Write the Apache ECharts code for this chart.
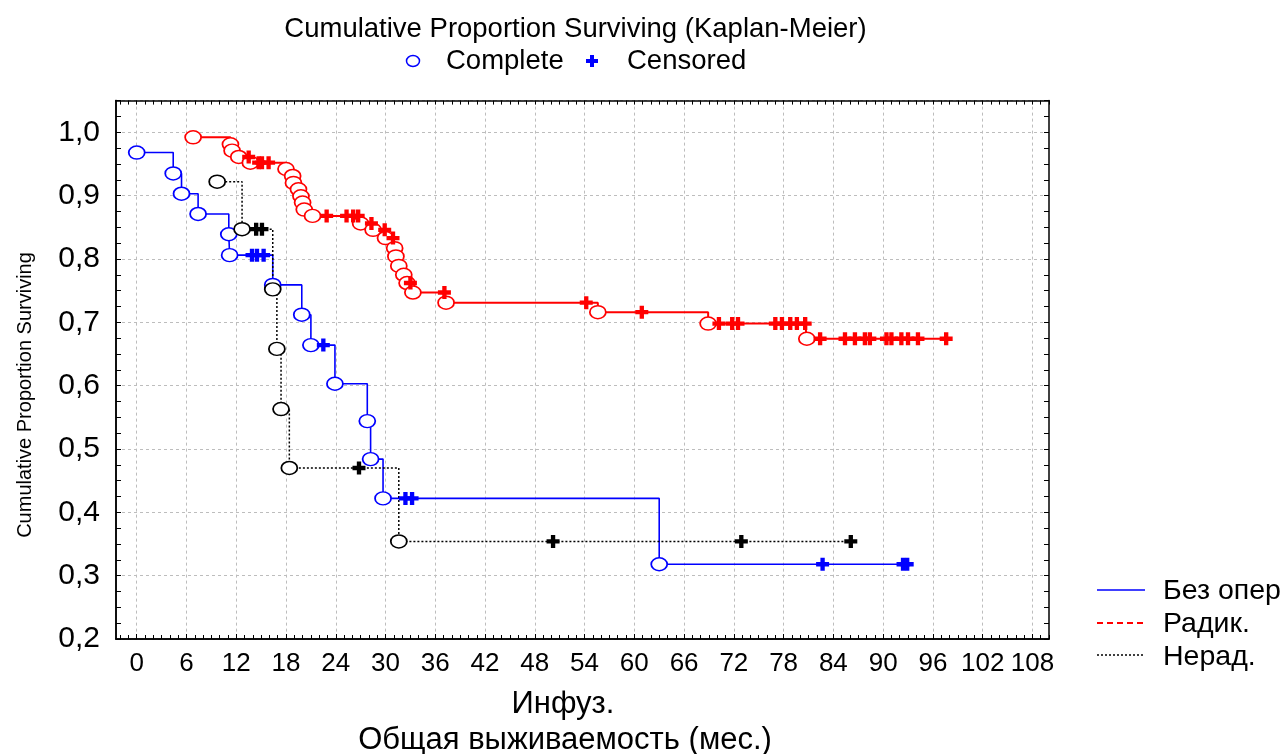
<!DOCTYPE html>
<html>
<head>
<meta charset="utf-8">
<script src="https://cdn.jsdelivr.net/npm/echarts@6/dist/echarts.min.js"></script>
<style>
  html, body { margin: 0; padding: 0; background: #fff; }
  #chart { width: 1283px; height: 754px; }
</style>
</head>
<body>
<div id="chart"></div>
<script>
// Kaplan-Meier survival by treatment group.
// For each group: times (months) of deaths with the survival estimate after each,
// and times of censored observations with the estimate at that time.

const groupNames = ['Без опер', 'Радик.', 'Нерад.'];

// Без опер
const noOpDeathTimes = [0, 4.4, 5.4, 7.4, 11.1, 11.2, 16.4, 19.9, 21.0, 23.9, 27.8, 28.2, 29.7, 63.0];
const noOpDeathSurv  = [0.968, 0.935, 0.903, 0.871, 0.839, 0.806, 0.759, 0.712, 0.664, 0.603, 0.544, 0.484, 0.422, 0.318];
const noOpCensTimes  = [13.9, 14.5, 15.3, 22.5, 32.4, 33.2, 82.7, 92.4, 92.9];
const noOpCensSurv   = [0.806, 0.806, 0.806, 0.664, 0.422, 0.422, 0.318, 0.318, 0.318];

// Радик.
const radDeathTimes = [6.8, 11.3, 11.5, 12.3, 13.7, 18.0, 18.8, 18.9, 19.5, 19.8, 20.0, 20.2, 21.2,
                       27.0, 28.5, 30.0, 31.1, 31.25, 31.6, 32.2, 32.6, 33.3, 37.3, 55.6, 68.9, 80.8];
const radDeathSurv  = [0.992, 0.981, 0.971, 0.961, 0.952, 0.942, 0.931, 0.920, 0.910, 0.899, 0.889, 0.878, 0.868,
                       0.856, 0.846, 0.833, 0.817, 0.804, 0.789, 0.775, 0.762, 0.747, 0.731, 0.716, 0.698, 0.674];
const radCensTimes  = [13.5, 14.7, 15.1, 15.9, 22.9, 25.3, 26.1, 26.7, 28.3, 29.9, 30.9, 33.0, 37.1, 54.2, 60.9,
                       70.2, 71.8, 72.5, 77.0, 77.8, 78.8, 79.6, 80.6,
                       82.4, 85.4, 86.6, 87.8, 88.4, 90.4, 91.0, 92.2, 93.0, 94.2, 97.6];
const radCensSurv   = [0.961, 0.952, 0.952, 0.952, 0.868, 0.868, 0.868, 0.868, 0.856, 0.846, 0.833, 0.762, 0.747, 0.731, 0.716,
                       0.698, 0.698, 0.698, 0.698, 0.698, 0.698, 0.698, 0.698,
                       0.674, 0.674, 0.674, 0.674, 0.674, 0.674, 0.674, 0.674, 0.674, 0.674, 0.674];

// Нерад.
const nonRadDeathTimes = [9.7, 12.7, 16.4, 16.9, 17.4, 18.4, 31.6];
const nonRadDeathSurv  = [0.922, 0.847, 0.752, 0.658, 0.563, 0.470, 0.354];
const nonRadCensTimes  = [14.4, 15.1, 26.8, 50.2, 72.9, 86.1];
const nonRadCensSurv   = [0.847, 0.847, 0.470, 0.354, 0.354, 0.354];

const xTickValues = [0, 6, 12, 18, 24, 30, 36, 42, 48, 54, 60, 66, 72, 78, 84, 90, 96, 102, 108];

const FONT = '"Liberation Sans", Arial, sans-serif';
const BLUE = '#0000ff', RED = '#ff0000', BLACK = '#000000';

// plus-shaped marker for censored observations
const CROSS = 'path://M4,0H8V4H12V8H8V12H4V8H0V4H4Z';

function zip(t, s) { return t.map((v, i) => [v, s[i]]); }
function stepData(dt, ds, ct, cs) {
  return zip(dt, ds).concat(zip(ct, cs)).sort((a, b) => a[0] - b[0]);
}

function groupSeries(name, color, lineType, lineWidth, dt, ds, ct, cs) {
  return [
    {
      name, type: 'line', step: 'end', data: stepData(dt, ds, ct, cs),
      showSymbol: false, symbol: 'none', silent: true, z: 2,
      lineStyle: { color, width: lineWidth, type: lineType }
    },
    {
      name: name + ' complete', type: 'scatter', data: zip(dt, ds), z: 3,
      symbol: 'circle', symbolSize: [16, 13],
      itemStyle: { color: '#ffffff', borderColor: color, borderWidth: 1.6, opacity: 1 }
    },
    {
      name: name + ' censored', type: 'scatter', data: zip(ct, cs), z: 4,
      symbol: CROSS, symbolSize: [13, 13],
      itemStyle: { color, opacity: 1 }
    }
  ];
}

// plus outline centred on (cx, cy) for the marker key
function plusPoints(cx, cy, h, a) {
  return [[cx - a, cy - h], [cx + a, cy - h], [cx + a, cy - a], [cx + h, cy - a], [cx + h, cy + a], [cx + a, cy + a],
          [cx + a, cy + h], [cx - a, cy + h], [cx - a, cy + a], [cx - h, cy + a], [cx - h, cy - a], [cx - a, cy - a]];
}

const intTicks = [];
for (let m = -2; m <= 110; m++) intTicks.push(m);

const X_MIN = -2.5, X_MAX = 110;
const gridBox = { left: 116, right: 234, top: 100.6, bottom: 115 };

const minorX = (pos) => ({
  type: 'value', position: pos, min: X_MIN, max: X_MAX,
  axisLine: { show: true, onZero: false, lineStyle: { color: '#000', width: 1.5 } },
  axisTick: { show: true, inside: true, length: 4, customValues: intTicks, lineStyle: { color: '#000', width: 1 } },
  axisLabel: { show: false }, splitLine: { show: false }
});
const minorY = (pos) => ({
  type: 'value', position: pos, min: 0.2, max: 1.05, interval: 0.025,
  axisLine: { show: true, onZero: false, lineStyle: { color: '#000', width: 1.5 } },
  axisTick: { show: true, inside: true, length: 5, lineStyle: { color: '#000', width: 1 } },
  axisLabel: { show: false }, splitLine: { show: false }
});

const FS = 27.5;
const chart = echarts.init(document.getElementById('chart'), null, { renderer: 'canvas' });

chart.setOption({
  animation: false,
  backgroundColor: '#ffffff',
  grid: gridBox,
  xAxis: [
    {
      type: 'value', position: 'bottom', min: X_MIN, max: X_MAX,
      axisLine: { show: true, onZero: false, lineStyle: { color: '#000', width: 1.5 } },
      axisTick: { show: true, inside: true, length: 5, customValues: xTickValues, lineStyle: { color: '#000' } },
      axisLabel: { customValues: xTickValues, color: '#000', fontSize: 26, fontFamily: FONT, margin: 12 },
      splitLine: { show: true, lineStyle: { color: '#bdbdbd', type: [3, 3], width: 1 } }
    },
    minorX('bottom'),
    minorX('top')
  ],
  yAxis: [
    {
      type: 'value', position: 'left', min: 0.2, max: 1.05, interval: 0.1,
      axisLine: { show: true, onZero: false, lineStyle: { color: '#000', width: 1.5 } },
      axisTick: { show: false },
      axisLabel: {
        color: '#000', fontSize: 30, fontFamily: FONT, margin: 16, showMaxLabel: false,
        formatter: (v) => v.toFixed(1).replace('.', ',')
      },
      splitLine: { show: true, lineStyle: { color: '#bdbdbd', type: [3, 3], width: 1 } }
    },
    minorY('left'),
    minorY('right')
  ],
  series: [].concat(
    groupSeries(groupNames[0], BLUE, 'solid', 1.6, noOpDeathTimes, noOpDeathSurv, noOpCensTimes, noOpCensSurv),
    groupSeries(groupNames[1], RED, 'solid', 2, radDeathTimes, radDeathSurv, radCensTimes, radCensSurv),
    groupSeries(groupNames[2], BLACK, [2, 2], 1.5, nonRadDeathTimes, nonRadDeathSurv, nonRadCensTimes, nonRadCensSurv)
  ),
  graphic: [
    // headline and marker key
    { type: 'text', x: 575.5, y: 29, style: { text: 'Cumulative Proportion Surviving (Kaplan-Meier)', font: FS + 'px ' + FONT, fill: '#000', align: 'center', verticalAlign: 'middle' } },
    { type: 'ellipse', shape: { cx: 413, cy: 61, rx: 6.5, ry: 5.5 }, style: { fill: '#fff', stroke: BLUE, lineWidth: 1.5 } },
    { type: 'text', x: 446, y: 61, style: { text: 'Complete', font: FS + 'px ' + FONT, fill: '#000', align: 'left', verticalAlign: 'middle' } },
    { type: 'polygon', shape: { points: plusPoints(592, 61, 6, 2) }, style: { fill: BLUE } },
    { type: 'text', x: 627, y: 61, style: { text: 'Censored', font: FS + 'px ' + FONT, fill: '#000', align: 'left', verticalAlign: 'middle' } },

    // axis titles
    { type: 'text', x: 25, y: 395, rotation: Math.PI / 2, style: { text: 'Cumulative Proportion Surviving', font: '20px ' + FONT, fill: '#000', align: 'center', verticalAlign: 'middle' } },
    { type: 'text', x: 563, y: 704, style: { text: 'Инфуз.', font: '31px ' + FONT, fill: '#000', align: 'center', verticalAlign: 'middle' } },
    { type: 'text', x: 565, y: 740, style: { text: 'Общая выживаемость (мес.)', font: '31px ' + FONT, fill: '#000', align: 'center', verticalAlign: 'middle' } },

    // group key on the right
    { type: 'line', shape: { x1: 1097, y1: 590, x2: 1145, y2: 590 }, style: { stroke: BLUE, lineWidth: 1.6 } },
    { type: 'text', x: 1163, y: 591, style: { text: groupNames[0], font: '28.5px ' + FONT, fill: '#000', align: 'left', verticalAlign: 'middle' } },
    { type: 'line', shape: { x1: 1097, y1: 623, x2: 1145, y2: 623 }, style: { stroke: RED, lineWidth: 2, lineDash: [6, 4] } },
    { type: 'text', x: 1163, y: 624, style: { text: groupNames[1], font: '28.5px ' + FONT, fill: '#000', align: 'left', verticalAlign: 'middle' } },
    { type: 'line', shape: { x1: 1097, y1: 655, x2: 1145, y2: 655 }, style: { stroke: BLACK, lineWidth: 1.5, lineDash: [2, 2] } },
    { type: 'text', x: 1163, y: 657, style: { text: groupNames[2], font: '28.5px ' + FONT, fill: '#000', align: 'left', verticalAlign: 'middle' } }
  ]
});
</script>
</body>
</html>
